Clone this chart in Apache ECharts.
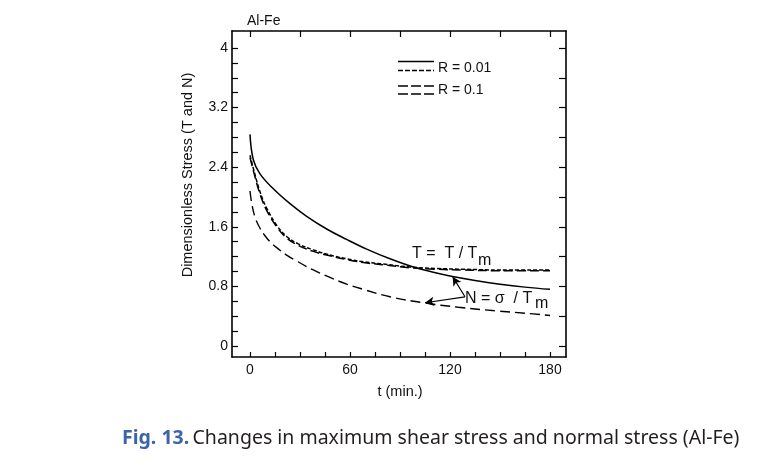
<!DOCTYPE html>
<html>
<head>
<meta charset="utf-8">
<script src="https://cdn.jsdelivr.net/npm/echarts@6/dist/echarts.min.js"></script>
<style>
html,body{margin:0;padding:0;background:#fff;}
#chart{width:764px;height:458px;}
</style>
</head>
<body>
<div id="chart"></div>
<script>
// ---- data ----
const nR001_t = [0, 2, 6, 14, 24, 34, 46, 58, 70, 84, 98, 110, 120, 135, 150, 165, 180];
const nR001_v = [2.84, 2.50, 2.31, 2.11, 1.91, 1.74, 1.57, 1.43, 1.30, 1.17, 1.06, 0.99, 0.94, 0.88, 0.83, 0.79, 0.76];

const tR001_t = [0, 3, 6, 10, 16, 22, 29, 38, 48, 58, 68, 80, 96, 112, 128, 150, 180];
const tR001_v = [2.56, 2.30, 2.07, 1.85, 1.62, 1.47, 1.37, 1.29, 1.22, 1.17, 1.13, 1.10, 1.06, 1.04, 1.03, 1.02, 1.02];

const tR01_t = [0, 3, 6, 10, 16, 22, 29, 38, 48, 58, 68, 80, 96, 112, 128, 150, 180];
const tR01_v = [2.53, 2.27, 2.04, 1.82, 1.60, 1.45, 1.35, 1.27, 1.21, 1.16, 1.12, 1.09, 1.05, 1.03, 1.02, 1.01, 1.01];

const nR01_t = [0, 1, 3, 6, 9, 12, 16, 22, 28, 38, 48, 58, 68, 84, 104, 125, 148, 165, 180];
const nR01_v = [2.08, 1.92, 1.73, 1.58, 1.48, 1.40, 1.32, 1.22, 1.14, 1.02, 0.92, 0.83, 0.76, 0.66, 0.58, 0.52, 0.47, 0.44, 0.41];

const xLabels = [0, 60, 120, 180];
const xTicksBottom = [0, 15, 30, 45, 60, 75, 90, 105, 120, 135, 150, 165, 180];
const xTicksTop = [0, 30, 60, 90, 120, 150, 180];
const yLabels = [0, 0.8, 1.6, 2.4, 3.2, 4];
const yTicksLeft = [0, 0.2, 0.4, 0.6, 0.8, 1.0, 1.2, 1.4, 1.6, 1.8, 2.0, 2.2, 2.4, 2.6, 2.8, 3.0, 3.2, 3.4, 3.6, 3.8, 4.0];
const yTicksRight = [0, 0.4, 0.8, 1.2, 1.6, 2.0, 2.4, 2.8, 3.2, 3.6, 4.0];

// annotation arrows (data space): from label to curves
const arrowFrom = [129, 0.66];
const arrowToUpper = [121.6, 0.93];
const arrowToLower = [105, 0.58];

const zip = (t, v) => t.map((x, i) => [x, v[i]]);

const FONT = 'Liberation Sans, Arial, sans-serif';
const chart = echarts.init(document.getElementById('chart'), null, {renderer: 'canvas'});

const axisLineStyle = {color: '#000', width: 1.6};

const option = {
  animation: false,
  backgroundColor: '#fff',
  grid: {left: 232, right: 198, top: 31, bottom: 101, containLabel: false},
  xAxis: [
    {
      type: 'value', position: 'bottom', min: -10.8, max: 189.6,
      axisLine: {show: true, onZero: false, lineStyle: axisLineStyle},
      axisTick: {show: true, inside: true, length: 5, customValues: xTicksBottom, lineStyle: {color: '#000', width: 1.2}},
      axisLabel: {show: true, customValues: xLabels, color: '#111', fontSize: 14, fontFamily: FONT, margin: 6},
      splitLine: {show: false}
    },
    {
      type: 'value', position: 'top', min: -10.8, max: 189.6,
      axisLine: {show: true, onZero: false, lineStyle: axisLineStyle},
      axisTick: {show: true, inside: true, length: 6, customValues: xTicksTop, lineStyle: {color: '#000', width: 1.2}},
      axisLabel: {show: false},
      splitLine: {show: false}
    }
  ],
  yAxis: [
    {
      type: 'value', position: 'left', min: -0.148, max: 4.228,
      axisLine: {show: true, onZero: false, lineStyle: axisLineStyle},
      axisTick: {show: true, inside: true, length: 6, customValues: yTicksLeft, lineStyle: {color: '#000', width: 1.2}},
      axisLabel: {show: true, customValues: yLabels, color: '#111', fontSize: 14, fontFamily: FONT, margin: 4},
      splitLine: {show: false}
    },
    {
      type: 'value', position: 'right', min: -0.148, max: 4.228,
      axisLine: {show: true, onZero: false, lineStyle: axisLineStyle},
      axisTick: {show: true, inside: true, length: 7, customValues: yTicksRight, lineStyle: {color: '#000', width: 1.2}},
      axisLabel: {show: false},
      splitLine: {show: false}
    }
  ],
  series: [
    {
      name: 'N R=0.01', type: 'line', smooth: 0.4, showSymbol: false, silent: true,
      data: zip(nR001_t, nR001_v),
      lineStyle: {color: '#000', width: 1.5, type: 'solid'},
      markLine: {
        silent: true, symbol: ['none', 'arrow'], symbolSize: [7, 9],
        lineStyle: {color: '#000', width: 1.2, type: 'solid'},
        label: {show: false},
        data: [
          [{coord: arrowFrom}, {coord: arrowToUpper}],
          [{coord: arrowFrom}, {coord: arrowToLower}]
        ]
      }
    },
    {
      name: 'T R=0.01', type: 'line', smooth: 0.4, showSymbol: false, silent: true,
      data: zip(tR001_t, tR001_v),
      lineStyle: {color: '#000', width: 1.5, type: [4, 2]}
    },
    {
      name: 'T R=0.1', type: 'line', smooth: 0.4, showSymbol: false, silent: true,
      data: zip(tR01_t, tR01_v),
      lineStyle: {color: '#000', width: 1.5, type: [9, 4]}
    },
    {
      name: 'N R=0.1', type: 'line', smooth: 0.4, showSymbol: false, silent: true,
      data: zip(nR01_t, nR01_v),
      lineStyle: {color: '#000', width: 1.4, type: [10, 5]}
    }
  ],
  graphic: [
    // title
    {type: 'text', left: 247, top: 14, style: {text: 'Al-Fe', font: '14px ' + FONT, fill: '#111'}},
    // legend
    {type: 'line', shape: {x1: 398, y1: 61.5, x2: 434, y2: 61.5}, style: {stroke: '#000', lineWidth: 1.5}},
    {type: 'line', shape: {x1: 398, y1: 70.5, x2: 434, y2: 70.5}, style: {stroke: '#000', lineWidth: 1.5, lineDash: [5, 2]}},
    {type: 'text', left: 438, top: 61, style: {text: 'R = 0.01', font: '14px ' + FONT, fill: '#111'}},
    {type: 'line', shape: {x1: 398, y1: 86, x2: 434, y2: 86}, style: {stroke: '#000', lineWidth: 1.6, lineDash: [10, 3]}},
    {type: 'line', shape: {x1: 398, y1: 94, x2: 434, y2: 94}, style: {stroke: '#000', lineWidth: 1.6, lineDash: [10, 3]}},
    {type: 'text', left: 438, top: 83, style: {text: 'R = 0.1', font: '14px ' + FONT, fill: '#111'}},
    // curve labels
    {type: 'text', left: 412, top: 246, style: {text: 'T =  T / T', font: '16px ' + FONT, fill: '#111'}},
    {type: 'text', left: 478, top: 253, style: {text: 'm', font: '16px ' + FONT, fill: '#111'}},
    {type: 'text', left: 465, top: 291, style: {text: 'N = σ  / T', font: '16px ' + FONT, fill: '#111'}},
    {type: 'text', left: 535, top: 296, style: {text: 'm', font: '16px ' + FONT, fill: '#111'}},
    // axis names
    {type: 'text', x: 188, y: 175, rotation: Math.PI / 2,
      style: {text: 'Dimensionless Stress (T and N)', font: '14.5px ' + FONT, fill: '#111', align: 'center', verticalAlign: 'middle'}},
    {type: 'text', x: 400, y: 392,
      style: {text: 't (min.)', font: '14.5px ' + FONT, fill: '#111', align: 'center', verticalAlign: 'middle'}},
    // caption
    {type: 'text', x: 122, y: 438,
      style: {
        text: '{a|Fig. 13.} {b|Changes in maximum shear stress and normal stress (Al-Fe)}',
        verticalAlign: 'middle', align: 'left',
        rich: {
          a: {fontFamily: 'Noto Sans', fontSize: 19.5, fontWeight: 'bold', fill: '#3d64a8', color: '#3d64a8'},
          b: {fontFamily: 'Noto Sans', fontSize: 19.5, fill: '#231f20', color: '#231f20'}
        }
      }}
  ]
};
chart.setOption(option);
</script>
</body>
</html>
